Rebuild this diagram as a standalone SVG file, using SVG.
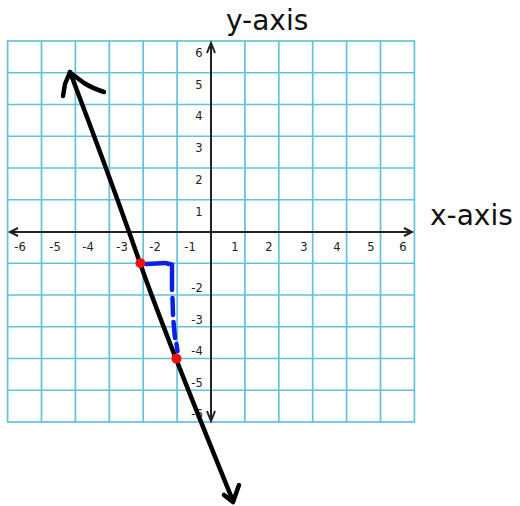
<svg xmlns="http://www.w3.org/2000/svg" width="520" height="506" viewBox="0 0 520 506">
<style>
.grid{stroke:#66c1d8;stroke-width:1.7;fill:none}
.axis{stroke:#222;stroke-width:2;fill:none}
.tick{font-family:"DejaVu Sans",sans-serif;font-size:11.5px;fill:#222;text-anchor:middle}
.title{font-family:"DejaVu Sans",sans-serif;font-size:28px;fill:#111}
.pen{stroke:#000;stroke-width:4.5;fill:none;stroke-linecap:round;stroke-linejoin:round}
.dash{stroke:#0b20e6;stroke-width:4.5;fill:none;stroke-linecap:round;stroke-linejoin:round}
.pt{fill:#ee1111}
</style>
<rect width="520" height="506" fill="#fff"/>
<g id="grid" class="grid">
<rect x="7.6" y="41" width="406.8" height="381"/>
<path d="M41.5,41V422M75.4,41V422M109.3,41V422M143.2,41V422M177.1,41V422M244.9,41V422M278.8,41V422M312.7,41V422M346.6,41V422M380.5,41V422"/>
<path d="M7.6,72.75H414.4M7.6,104.5H414.4M7.6,136.25H414.4M7.6,168H414.4M7.6,199.75H414.4M7.6,263.25H414.4M7.6,295H414.4M7.6,326.75H414.4M7.6,358.5H414.4M7.6,390.25H414.4"/>
</g>
<g id="axes" class="axis">
<path d="M10,232H412"/>
<path d="M18,228L10,232L18,236"/>
<path d="M404,228L412,232L404,236"/>
<path d="M211,43V421"/>
<path d="M207,53L211,43L215,53"/>
<path d="M207,411L211,421L215,411"/>
</g>
<g id="x-labels" class="tick">
<text x="20" y="251">-6</text>
<text x="55" y="251">-5</text>
<text x="88" y="251">-4</text>
<text x="122" y="251">-3</text>
<text x="155" y="251">-2</text>
<text x="190" y="251">-1</text>
<text x="235" y="251">1</text>
<text x="269" y="251">2</text>
<text x="304" y="251">3</text>
<text x="337" y="251">4</text>
<text x="371" y="251">5</text>
<text x="403" y="251">6</text>
</g>
<g id="y-labels" class="tick">
<text x="199" y="56.7">6</text>
<text x="199" y="88.5">5</text>
<text x="199" y="120.2">4</text>
<text x="199" y="152">3</text>
<text x="199" y="183.7">2</text>
<text x="199" y="215.5">1</text>
<text x="197" y="292">-2</text>
<text x="197" y="323.5">-3</text>
<text x="197" y="355">-4</text>
<text x="197" y="386.5">-5</text>
<text x="197" y="418">-6</text>
</g>
<g id="titles" class="title">
<text x="226" y="30">y-axis</text>
<text x="430" y="225">x-axis</text>
</g>
<g id="rise-run" class="dash">
<path d="M146,264L166,263"/>
<path d="M167,263.5L172,264.5L172,290"/>
<path d="M172.5,298L173,315"/>
<path d="M173.5,322L175,338"/>
<path d="M176.5,344L177.5,351"/>
</g>
<g id="line" class="pen">
<path d="M70,72C92,130 118,200 140,263S200,420 233,501"/>
<path d="M63,96L65,84L70,72"/>
<path d="M72,74L84,83Q92,88 104,92"/>
<path d="M224,495L233,502L239,485"/>
</g>
<g id="points">
<circle class="pt" cx="140.5" cy="263.3" r="5"/>
<circle class="pt" cx="176.5" cy="358.6" r="5"/>
</g>
</svg>
